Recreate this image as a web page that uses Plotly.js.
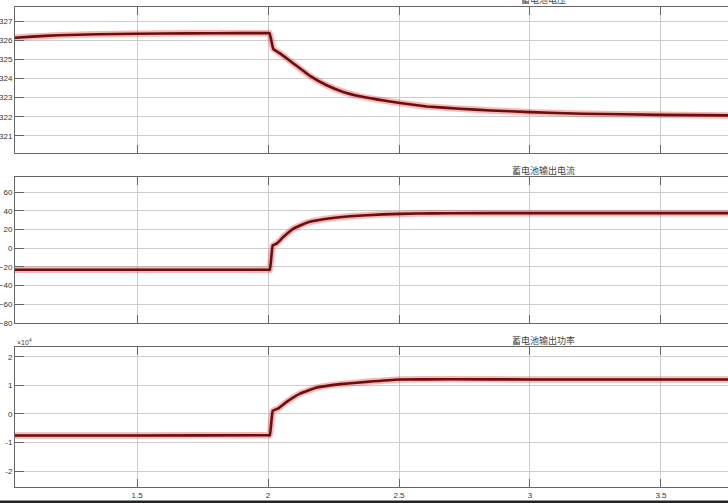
<!DOCTYPE html>
<html>
<head>
<meta charset="utf-8">
<script src="https://cdn.plot.ly/plotly-3.0.1.min.js"></script>
<style>html,body{margin:0;padding:0;background:#fff;}#chart{width:728px;height:503px;}</style>
</head>
<body>
<div id="chart"></div>
<script>
// ---- data (time in s) ----
const voltTime = [1.034, 1.1, 1.2, 1.35, 1.5, 1.7, 1.9, 2.0, 2.006, 2.02, 2.046, 2.097, 2.16, 2.224, 2.287, 2.351, 2.415, 2.504, 2.606, 2.733, 2.85, 3.0, 3.2, 3.5, 3.756];
const voltage  = [326.14, 326.2, 326.27, 326.32, 326.35, 326.37, 326.38, 326.38, 326.38, 325.55, 325.32, 324.79, 324.14, 323.65, 323.30, 323.07, 322.91, 322.72, 322.54, 322.42, 322.33, 322.24, 322.16, 322.10, 322.07];

const currTime = [1.034, 1.5, 2.0, 2.007, 2.018, 2.033, 2.058, 2.097, 2.148, 2.211, 2.313, 2.44, 2.568, 2.695, 3.0, 3.5, 3.756];
const current  = [-23, -23, -23, -23, 3.2, 5.0, 12.1, 21.1, 27.5, 31.1, 34.3, 36.4, 37.3, 37.6, 37.7, 37.7, 37.7];

const powTime = [1.034, 1.5, 2.0, 2.007, 2.018, 2.039, 2.071, 2.122, 2.186, 2.275, 2.377, 2.504, 2.695, 3.0, 3.5, 3.756];
const power   = [-7550, -7550, -7500, -7500, 1050, 1900, 4200, 7100, 9200, 10400, 11200, 12000, 12100, 12050, 12050, 12050];

const titles = ['蓄电池电压', '蓄电池输出电流', '蓄电池输出功率'];
const xTicks = [1.5, 2, 2.5, 3, 3.5];
const xTickText = ['1.5', '2', '2.5', '3', '3.5'];
const vTicks = [321, 322, 323, 324, 325, 326, 327];
const iTicks = [-80, -60, -40, -20, 0, 20, 40, 60];
const pTicks = [-20000, -10000, 0, 10000, 20000];
const pTickText = ['-2', '-1', '0', '1', '2'];

// ---- styling ----
const H = 503;
const halo = {color: 'rgba(232,35,35,0.33)', width: 6.5, shape: 'spline', smoothing: 0.3};
const core = {color: '#6a0e0e', width: 2.6, shape: 'spline', smoothing: 0.3};
function pair(x, y, xa, ya) {
  return [
    {x: x, y: y, xaxis: xa, yaxis: ya, mode: 'lines', line: halo, hoverinfo: 'skip', showlegend: false},
    {x: x, y: y, xaxis: xa, yaxis: ya, mode: 'lines', line: core, showlegend: false}
  ];
}
const traces = [].concat(
  pair(voltTime, voltage, 'x', 'y'),
  pair(currTime, current, 'x2', 'y2'),
  pair(powTime, power, 'x3', 'y3')
);

const tickFont = {family: 'Liberation Sans, Arial, sans-serif', size: 8, color: '#333'};
function xax(showLabels) {
  return {
    range: [1.034, 3.756], tickvals: xTicks, ticktext: xTickText, showticklabels: showLabels,
    showgrid: true, gridcolor: '#cdcdcd', gridwidth: 1, zeroline: false,
    showline: true, linecolor: '#666', linewidth: 1, mirror: 'allticks',
    ticks: 'inside', ticklen: 8, tickcolor: '#666', tickfont: tickFont
  };
}
function yax(dom, range, tv, tt) {
  const a = {
    domain: dom, range: range, tickvals: tv,
    showgrid: true, gridcolor: '#cdcdcd', gridwidth: 1, zeroline: false,
    showline: true, linecolor: '#666', linewidth: 1, mirror: false,
    ticks: 'inside', ticklen: 9, tickcolor: '#666', tickfont: tickFont, ticklabelstandoff: 0
  };
  if (tt) a.ticktext = tt;
  return a;
}
const d1 = [1 - 153 / H, 1 - 7 / H];
const d2 = [1 - 323 / H, 1 - 177 / H];
const d3 = [1 - 487 / H, 1 - 347 / H];

const titleX = (543 - 15) / 713;
const titleFont = {family: 'Noto Sans CJK SC, sans-serif', size: 9, color: '#444'};
const layout = {
  width: 728, height: 503,
  margin: {l: 15, r: 0, t: 0, b: 0},
  paper_bgcolor: '#fff', plot_bgcolor: '#fff',
  xaxis: Object.assign(xax(false), {anchor: 'y'}),
  xaxis2: Object.assign(xax(false), {anchor: 'y2'}),
  xaxis3: Object.assign(xax(true), {anchor: 'y3'}),
  yaxis: yax(d1, [320.1, 327.75], vTicks),
  yaxis2: yax(d2, [-80, 76.4], iTicks),
  yaxis3: yax(d3, [-25600, 23400], pTicks, pTickText),
  annotations: [
    {text: titles[0], xref: 'paper', yref: 'paper', x: titleX, y: 1 + 1 / H, xanchor: 'center', yanchor: 'middle', showarrow: false, font: titleFont},
    {text: titles[1], xref: 'paper', yref: 'paper', x: titleX, y: 1 - 170 / H, xanchor: 'center', yanchor: 'middle', showarrow: false, font: titleFont},
    {text: titles[2], xref: 'paper', yref: 'paper', x: titleX, y: 1 - 340.5 / H, xanchor: 'center', yanchor: 'middle', showarrow: false, font: titleFont},
    {text: '×10<sup>4</sup>', xref: 'paper', yref: 'paper', x: 0, y: 1 - 342 / H, xanchor: 'left', yanchor: 'middle', showarrow: false, font: {family: 'Liberation Sans, Arial, sans-serif', size: 7, color: '#444'}}
  ],
  shapes: [
    {type: 'rect', xref: 'paper', yref: 'paper', x0: -0.05, x1: 1.05, y0: 1 - 503 / H, y1: 1 - 500.5 / H, fillcolor: '#222', line: {width: 0}}
  ]
};
Plotly.newPlot('chart', traces, layout, {displayModeBar: false, staticPlot: true});
</script>
</body>
</html>
